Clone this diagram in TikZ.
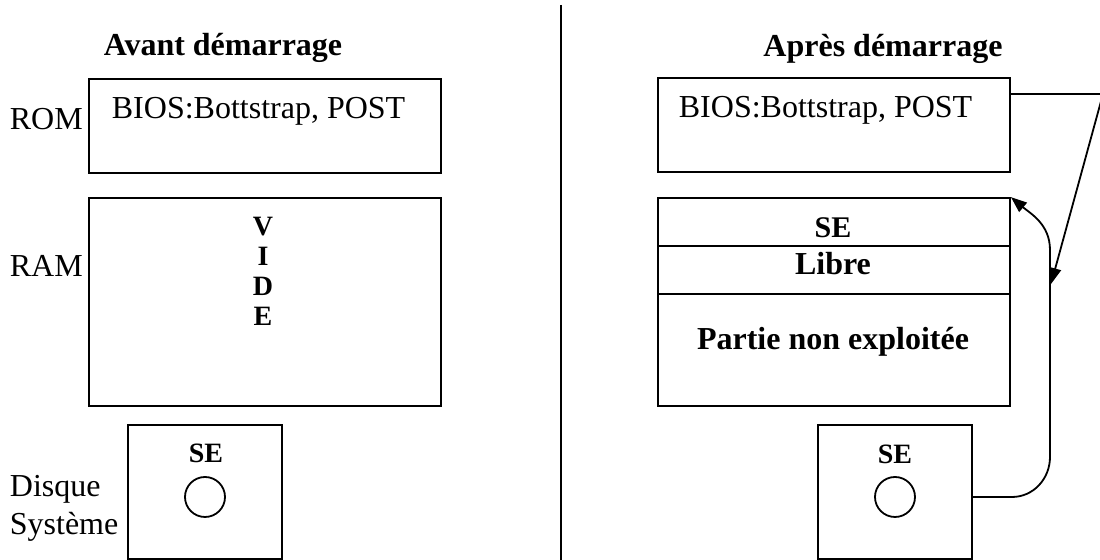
\documentclass[tikz,border=0pt]{standalone}
\usepackage{fontspec}
\setmainfont{Liberation Serif}
\usetikzlibrary{arrows.meta}

\begin{document}
\begin{tikzpicture}[x=0.5pt, y=-0.5pt, line width=0.9pt,
	box/.style={draw, inner sep=0pt, minimum width=176pt},
	disk/.style={draw, inner sep=0pt, minimum width=77pt, minimum height=67pt},
	hole/.style={draw, circle, inner sep=0pt, minimum size=20pt},
	txt/.style={inner sep=0pt, font=\fontsize{16}{19}\selectfont},
	bold/.style={inner sep=0pt, font=\bfseries\fontsize{16}{19}\selectfont},
	small/.style={inner sep=0pt, font=\bfseries\fontsize{14}{16}\selectfont},
	arr/.style={-{Triangle[length=8pt,width=6pt]}}]
\useasboundingbox (0,0) rectangle (1100,560);
% titles and divider
\node[bold, anchor=base] (titleA) at (223,56) {Avant démarrage};
\node[bold, anchor=base] (titleB) at (883,57) {Après démarrage};
\coordinate (divtop) at (561,5);
\coordinate (divbot) at (561,560);
\draw (divtop) -- (divbot);
% before boot
\node[txt, anchor=base west] (romlbl) at (9,130) {ROM};
\node[txt, anchor=base west] (ramlbl) at (9,277) {RAM};
\node[txt, anchor=base west] (dsklbl) at (9,497) {Disque};
\node[txt, anchor=base west] (syslbl) at (9,535) {Système};
\node[box, minimum height=47pt] (romA) at (265,126) {};
\node[txt, anchor=base west] (biosA) at (111,119) {BIOS:Bottstrap, POST};
\node[box, minimum height=104pt] (ramA) at (265,302) {};
\foreach \l [count=\i] in {V,I,D,E}
	\node[small, anchor=base] (vide\i) at (263,206+30*\i) {\l};
\node[disk] (diskA) at (205,492) {};
\node[small, anchor=base] (seA) at (206,463) {SE};
\node[hole] (holeA) at (205,497) {};
% after boot
\node[box, minimum height=47pt] (romB) at (834,125) {};
\node[txt, anchor=base west] (biosB) at (678,118) {BIOS:Bottstrap, POST};
\node[box, minimum height=104pt] (ramB) at (834,302) {};
\coordinate (sep1) at (834,246);
\coordinate (sep2) at (834,294);
\draw (ramB.west |- sep1) -- (ramB.east |- sep1);
\draw (ramB.west |- sep2) -- (ramB.east |- sep2);
\node[bold, font=\bfseries\fontsize{15}{18}\selectfont, anchor=base] (seram) at (833,238) {SE};
\node[bold, anchor=base] (libre) at (833,275) {Libre};
\node[bold, anchor=base] (unused) at (833,350) {Partie non exploitée};
\node[disk] (diskB) at (895,492) {};
\node[small, anchor=base] (seB) at (895,464) {SE};
\node[hole] (holeB) at (895,497) {};
% loading arrows
\coordinate (bend) at (1103,94);
\coordinate (hit) at (1051,284);
\coordinate (railLow) at (1050,457);
\coordinate (railHigh) at (1050,250);
\draw[arr] (romB.east |- bend) -- (bend) -- (hit);
\draw[arr] (holeB -| diskB.east) -- (1012,497) to[out=0, in=-90] (railLow)
	-- (railHigh) to[out=90, in=-40] (ramB.north east);
\end{tikzpicture}
\end{document}
